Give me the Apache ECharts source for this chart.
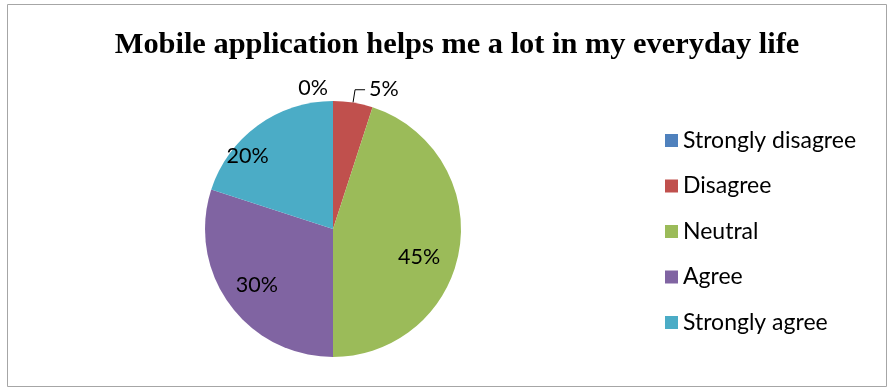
<!DOCTYPE html>
<html>
<head>
<meta charset="utf-8">
<script src="https://cdn.jsdelivr.net/npm/echarts@6/dist/echarts.min.js"></script>
<style>
  html, body { margin: 0; padding: 0; background: #fff; }
  #chart { width: 887px; height: 388px; }
</style>
</head>
<body>
<div id="chart"></div>
<script>
const categories = ['Strongly disagree', 'Disagree', 'Neutral', 'Agree', 'Strongly agree'];
const values = [0, 5, 45, 30, 20];
const colors = ['#4F81BD', '#C0504D', '#9BBB59', '#8064A2', '#4BACC6'];
// nudges so the inner labels sit where Excel put them
const labelShift = [[9, 0], [0, -1], [20, 18], [-22, 17], [-46, -19]];

const chart = echarts.init(document.getElementById('chart'));

const option = {
  animation: false,
  title: {
    text: 'Mobile application helps me a lot in my everyday life',
    left: 452,
    top: 25,
    textAlign: 'center',
    textStyle: {
      fontFamily: 'Liberation Serif',
      fontWeight: 'bold',
      fontSize: 30.4,
      color: '#000'
    }
  },
  legend: {
    orient: 'vertical',
    left: 665,
    top: 129,
    padding: 0,
    itemWidth: 13,
    itemHeight: 13,
    itemGap: 22.5,
    icon: 'rect',
    textStyle: { fontFamily: 'Lato', fontSize: 23, lineHeight: 23, color: '#000' },
    data: categories
  },
  graphic: [{
    type: 'rect',
    shape: { x: 7.5, y: 4.5, width: 879, height: 382 },
    style: { fill: 'none', stroke: '#a6a6a6', lineWidth: 1 },
    z: -1
  }],
  series: [{
    type: 'pie',
    center: [333, 229],
    radius: 128,
    startAngle: 90,
    clockwise: true,
    avoidLabelOverlap: false,
    itemStyle: { borderWidth: 0 },
    label: {
      formatter: '{d}%',
      fontFamily: 'Lato',
      fontSize: 21.5,
      color: '#000',
      distanceToLabelLine: 4
    },
    labelLine: {
      length: 13,
      length2: 10,
      lineStyle: { color: '#000', width: 1 }
    },
    labelLayout: function (p) {
      const s = labelShift[p.dataIndex];
      return { dx: s[0], dy: s[1] };
    },
    data: categories.map(function (name, i) {
      const item = { name: name, value: values[i], itemStyle: { color: colors[i] } };
      if (i === 0) item.labelLine = { show: false };
      if (i >= 2) item.label = { position: 'inside' };
      return item;
    })
  }]
};

chart.setOption(option);
</script>
</body>
</html>
